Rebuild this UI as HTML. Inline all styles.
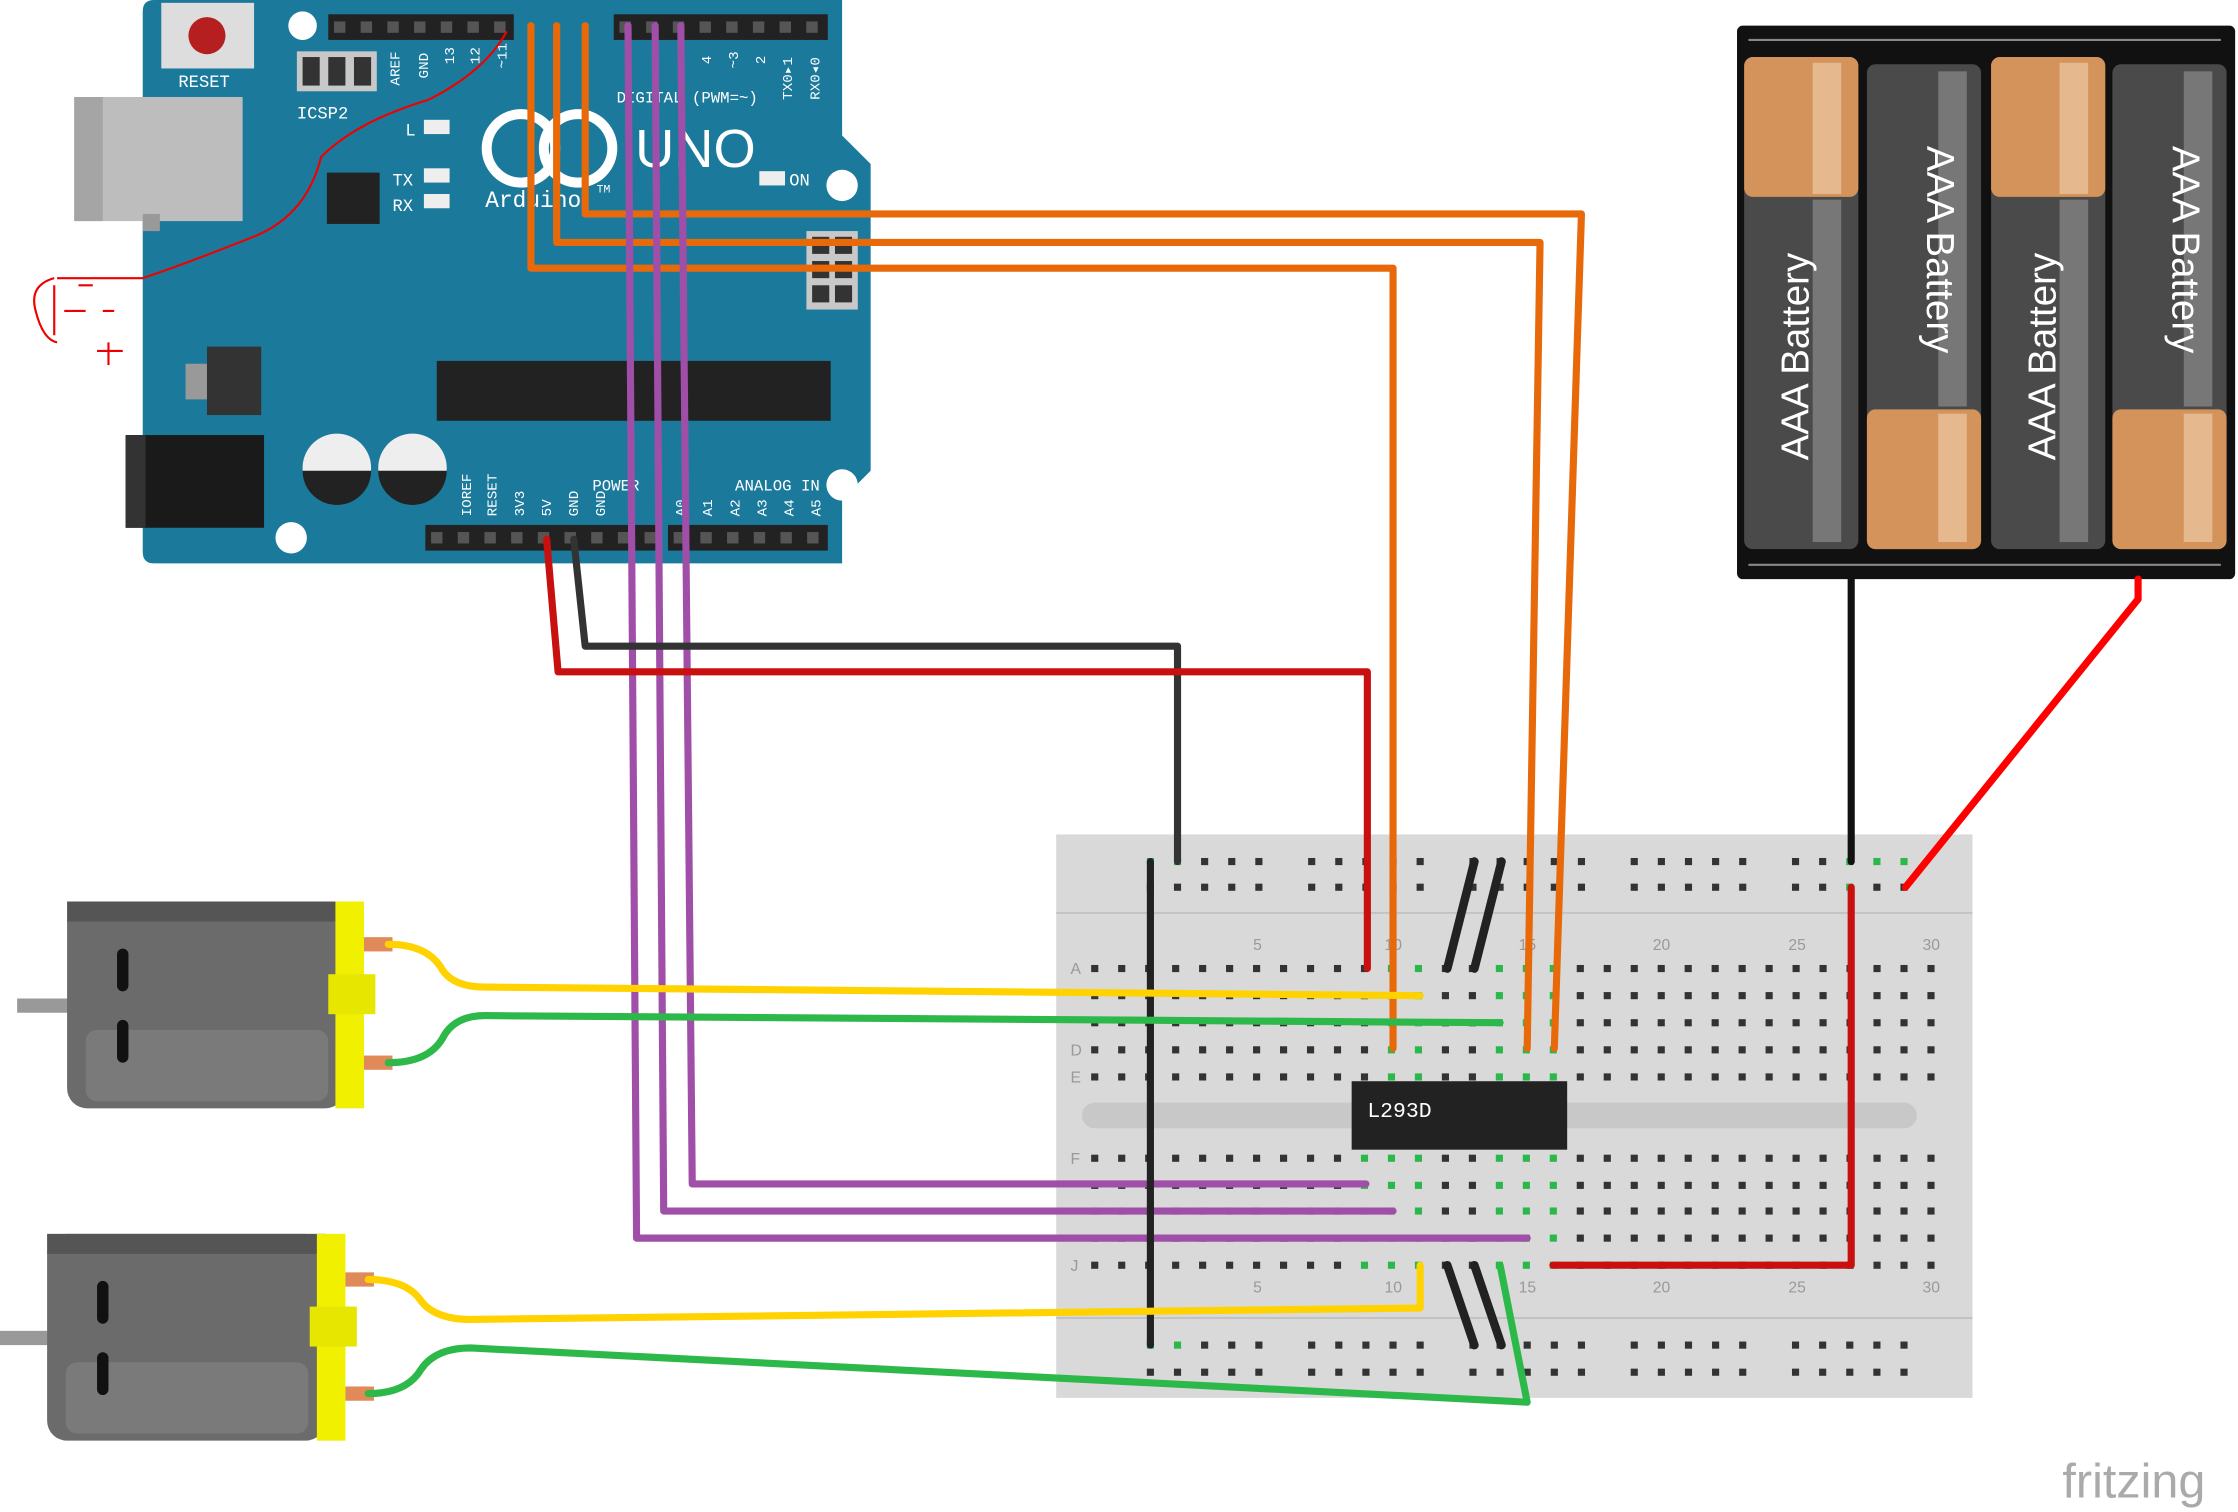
<!DOCTYPE html>
<html><head><meta charset="utf-8"><style>
html,body{margin:0;padding:0;background:#fff;}
svg{display:block;}
.m{font-family:"Liberation Mono",monospace;}
.s{font-family:"Liberation Sans",sans-serif;}
</style></head><body>
<svg width="2238" height="1512" viewBox="0 0 1568 1060" preserveAspectRatio="none" xmlns="http://www.w3.org/2000/svg">
<rect width="1568" height="1060" fill="#fff"/>
<!-- Arduino -->
<path d="M108 0 H590 V95 L610 115 V330 L590 350 V395 H108 Q100 395 100 387 V8 Q100 0 108 0Z" fill="#1b7a9c"/>
<rect x="52" y="68" width="118" height="87" fill="#bdbdbd"/>
<rect x="52" y="68" width="20" height="87" fill="#a5a5a5"/>
<rect x="100" y="150" width="12" height="12" fill="#999"/>
<rect x="88" y="305" width="97" height="65" fill="#1a1a1a"/>
<rect x="88" y="305" width="14" height="65" fill="#333"/>
<rect x="113" y="2" width="65" height="46" fill="#ddd"/>
<circle cx="145" cy="25" r="13" fill="#b51f1f"/>
<text class="m" x="125" y="61" font-size="12" fill="#fff">RESET</text>
<circle cx="212" cy="18" r="10" fill="#fff"/>
<circle cx="590" cy="130" r="11" fill="#fff"/>
<circle cx="590" cy="340" r="11" fill="#fff"/>
<circle cx="204" cy="377" r="11" fill="#fff"/>
<rect x="208" y="36" width="56" height="28" fill="#c8c8c8"/>
<rect x="212" y="40" width="12" height="20" fill="#333"/><rect x="230" y="40" width="12" height="20" fill="#333"/><rect x="248" y="40" width="12" height="20" fill="#333"/>
<text class="m" x="208" y="83" font-size="12" fill="#fff">ICSP2</text>
<g id="hdr"></g>
<rect x="306" y="253" width="276" height="42" fill="#222"/>
<rect x="229" y="121" width="37" height="36" fill="#222"/>
<rect x="145" y="243" width="38" height="48" fill="#333"/>
<rect x="130" y="255" width="15" height="25" fill="#999"/>
<rect x="565" y="162" width="36" height="55" fill="#c8c8c8"/>
<rect x="569" y="166" width="12" height="12" fill="#333"/><rect x="585" y="166" width="12" height="12" fill="#333"/>
<rect x="569" y="183" width="12" height="12" fill="#333"/><rect x="585" y="183" width="12" height="12" fill="#333"/>
<rect x="569" y="200" width="12" height="12" fill="#333"/><rect x="585" y="200" width="12" height="12" fill="#333"/>
<circle cx="236" cy="328" r="24" fill="#eee"/><path d="M212 330 A24 24 0 0 0 260 330Z" fill="#222"/>
<circle cx="289" cy="328" r="24" fill="#eee"/><path d="M265 330 A24 24 0 0 0 313 330Z" fill="#222"/>
<rect x="297" y="84" width="18" height="10" fill="#eee"/>
<rect x="297" y="118" width="18" height="10" fill="#eee"/>
<rect x="297" y="136" width="18" height="10" fill="#eee"/>
<rect x="532" y="120" width="18" height="10" fill="#eee"/>
<g class="m" font-size="12" fill="#fff">
<text x="284" y="95">L</text>
<text x="275" y="130">TX</text>
<text x="275" y="148">RX</text>
<text x="553" y="130">ON</text>
<text x="432" y="72" font-size="11">DIGITAL (PWM=~)</text>
<text x="415" y="344" font-size="11">POWER</text>
<text x="515" y="344" font-size="11">ANALOG IN</text>
<text x="340" y="145" font-size="16">Arduino</text>
<text x="418" y="135" font-size="8">TM</text>
<g font-size="10">
<text transform="translate(280,60) rotate(-90)">AREF</text>
<text transform="translate(300,55) rotate(-90)">GND</text>
<text transform="translate(318,45) rotate(-90)">13</text>
<text transform="translate(336,45) rotate(-90)">12</text>
<text transform="translate(355,48) rotate(-90)">~11</text>
<text transform="translate(330,362) rotate(-90)">IOREF</text>
<text transform="translate(348,362) rotate(-90)">RESET</text>
<text transform="translate(367,362) rotate(-90)">3V3</text>
<text transform="translate(386,362) rotate(-90)">5V</text>
<text transform="translate(405,362) rotate(-90)">GND</text>
<text transform="translate(424,362) rotate(-90)">GND</text>
<text transform="translate(480,362) rotate(-90)">A0</text>
<text transform="translate(499,362) rotate(-90)">A1</text>
<text transform="translate(518,362) rotate(-90)">A2</text>
<text transform="translate(537,362) rotate(-90)">A3</text>
<text transform="translate(556,362) rotate(-90)">A4</text>
<text transform="translate(575,362) rotate(-90)">A5</text>
<text transform="translate(498,45) rotate(-90)">4</text>
<text transform="translate(517,48) rotate(-90)">~3</text>
<text transform="translate(536,45) rotate(-90)">2</text>
<text transform="translate(555,70) rotate(-90)">TX0▸1</text>
<text transform="translate(574,70) rotate(-90)">RX0◂0</text>
</g>
</g>
<text class="s" x="445" y="117" font-size="38" fill="#fff">UNO</text>
<circle cx="365" cy="104" r="24" fill="none" stroke="#fff" stroke-width="7"/>
<circle cx="405" cy="104" r="24" fill="none" stroke="#fff" stroke-width="7"/>
<!-- red hand drawing -->
<path d="M355 22 Q340 50 300 70 Q250 85 225 110 Q215 150 180 165 Q130 185 100 195 L40 195" fill="none" stroke="#e00" stroke-width="1.5"/>
<path d="M38 195 Q20 200 25 218 Q30 238 40 240 M38 200 V235 M45 218 H60 M55 200 H65 M72 218 H80 M76 240 V256 M68 246 H86" fill="none" stroke="#e00" stroke-width="1.5"/>
<!-- Battery -->
<rect x="1217" y="18" width="349" height="388" rx="4" fill="#111"/>
<path d="M1225 28 H1556 M1225 396 H1556" stroke="#888" stroke-width="1.5"/>
<g class="s" font-size="27" fill="#fff">
<rect x="1222" y="40" width="80" height="345" rx="6" fill="#4a4a4a"/><rect x="1222" y="40" width="80" height="98" rx="6" fill="#d4935a"/><rect x="1270" y="44" width="20" height="92" fill="#e6b88e"/><rect x="1270" y="140" width="20" height="240" fill="#777"/>
<text transform="translate(1267,250) rotate(-90)" text-anchor="middle">AAA Battery</text>
<rect x="1308" y="45" width="80" height="340" rx="6" fill="#4a4a4a"/><rect x="1308" y="287" width="80" height="98" rx="6" fill="#d4935a"/><rect x="1358" y="290" width="20" height="90" fill="#e6b88e"/><rect x="1358" y="50" width="20" height="235" fill="#777"/>
<text transform="translate(1350,175) rotate(90)" text-anchor="middle">AAA Battery</text>
<rect x="1395" y="40" width="80" height="345" rx="6" fill="#4a4a4a"/><rect x="1395" y="40" width="80" height="98" rx="6" fill="#d4935a"/><rect x="1443" y="44" width="20" height="92" fill="#e6b88e"/><rect x="1443" y="140" width="20" height="240" fill="#777"/>
<text transform="translate(1440,250) rotate(-90)" text-anchor="middle">AAA Battery</text>
<rect x="1480" y="45" width="80" height="340" rx="6" fill="#4a4a4a"/><rect x="1480" y="287" width="80" height="98" rx="6" fill="#d4935a"/><rect x="1530" y="290" width="20" height="90" fill="#e6b88e"/><rect x="1530" y="50" width="20" height="235" fill="#777"/>
<text transform="translate(1522,175) rotate(90)" text-anchor="middle">AAA Battery</text>
</g>
<!-- Breadboard -->
<rect x="740" y="585" width="642" height="395" fill="#d9d9d9"/>
<rect x="758" y="773" width="585" height="18" rx="9" fill="#c8c8c8"/>
<line x1="740" y1="640" x2="1382" y2="640" stroke="#bbb"/>
<line x1="740" y1="924" x2="1382" y2="924" stroke="#bbb"/>
<g id="holes"></g>
<g class="s" font-size="11" fill="#999">
<text x="878" y="666">5</text><text x="970" y="666">10</text><text x="1064" y="666">15</text><text x="1158" y="666">20</text><text x="1253" y="666">25</text><text x="1347" y="666">30</text>
<text x="878" y="906">5</text><text x="970" y="906">10</text><text x="1064" y="906">15</text><text x="1158" y="906">20</text><text x="1253" y="906">25</text><text x="1347" y="906">30</text>
<text x="750" y="683">A</text><text x="750" y="740">D</text><text x="750" y="759">E</text><text x="750" y="816">F</text><text x="750" y="891">J</text>
</g>
<rect x="947" y="758" width="151" height="48" fill="#222"/>
<text class="m" x="958" y="783" font-size="15" fill="#fff">L293D</text>
<!-- Motors -->
<g>
<rect x="12" y="700" width="38" height="10" fill="#999"/>
<rect x="47" y="632" width="195" height="145" rx="14" fill="#6b6b6b"/>
<rect x="47" y="632" width="195" height="14" fill="#555"/>
<rect x="60" y="722" width="170" height="50" rx="8" fill="#7a7a7a"/>
<rect x="82" y="665" width="8" height="30" rx="4" fill="#111"/><rect x="82" y="715" width="8" height="30" rx="4" fill="#111"/>
<rect x="235" y="632" width="20" height="145" fill="#f0f000"/>
<rect x="230" y="683" width="33" height="28" fill="#e6e600"/>
<rect x="255" y="657" width="20" height="10" fill="#e08a5a"/><rect x="255" y="740" width="20" height="10" fill="#e08a5a"/>
</g>
<g>
<rect x="0" y="933" width="38" height="10" fill="#999"/>
<rect x="33" y="865" width="195" height="145" rx="14" fill="#6b6b6b"/>
<rect x="33" y="865" width="195" height="14" fill="#555"/>
<rect x="46" y="955" width="170" height="50" rx="8" fill="#7a7a7a"/>
<rect x="68" y="898" width="8" height="30" rx="4" fill="#111"/><rect x="68" y="948" width="8" height="30" rx="4" fill="#111"/>
<rect x="222" y="865" width="20" height="145" fill="#f0f000"/>
<rect x="217" y="916" width="33" height="28" fill="#e6e600"/>
<rect x="242" y="892" width="20" height="10" fill="#e08a5a"/><rect x="242" y="972" width="20" height="10" fill="#e08a5a"/>
</g>
<!-- Wires -->
<g fill="none" stroke-width="5" stroke-linejoin="round" stroke-linecap="round">
<path d="M410 18 V150 H1108 L1089 735" stroke="#e8690a"/>
<path d="M390 18 V170 H1079 L1070 735" stroke="#e8690a"/>
<path d="M372 18 V188 H976 V735" stroke="#e8690a"/>
<path d="M440 18 L446 868 H1070" stroke="#a04fa8"/>
<path d="M459 18 L465 849 H976" stroke="#a04fa8"/>
<path d="M477 18 L485 830 H957" stroke="#a04fa8"/>
<path d="M402 378 L410 453 H825 V604" stroke="#333"/>
<path d="M383 378 L391 471 H958 V679" stroke="#c81010"/>
<path d="M806 604 V943" stroke="#222"/>
<path d="M1088 887 H1297 V622" stroke="#c81010"/>
<path d="M1297 406 V604" stroke="#111"/>
<path d="M1498 406 V420 L1335 622" stroke="#f00"/>
<path d="M272 662 Q300 662 310 680 Q318 692 340 692 L995 698" stroke="#ffd200"/>
<path d="M272 745 Q300 745 310 728 Q318 712 340 712 L1051 717" stroke="#2db84a"/>
<path d="M258 897 Q285 897 295 912 Q305 925 330 925 L995 917 V887" stroke="#ffd200"/>
<path d="M258 977 Q285 977 295 960 Q305 945 330 945 L1070 983 L1051 887" stroke="#2db84a"/>
<path d="M1014 679 L1033 604 M1033 679 L1052 604 M1014 887 L1033 943 M1033 887 L1052 943" stroke="#222" stroke-width="6"/>
</g>
<text class="s" x="1445" y="1050" font-size="34" fill="#aaa">fritzing</text>
</svg>
<script>
(function(){
var ns="http://www.w3.org/2000/svg",g=document.getElementById("holes"),hd=document.getElementById("hdr");
function R(p,x,y,w,h,f){var r=document.createElementNS(ns,"rect");r.setAttribute("x",x);r.setAttribute("y",y);r.setAttribute("width",w);r.setAttribute("height",h);r.setAttribute("fill",f);p.appendChild(r);}
function h(x,y,gr){R(g,x-2.5,y-2.5,5,5,gr?"#2bb84a":"#333");}
// headers
[[230,360],[430,580],[298,460],[468,580]].forEach(function(a,i){var y=i<2?10:368;R(hd,a[0],y,a[1]-a[0],18,"#222");for(var x=a[0]+4;x<a[1]-6;x+=18.7)R(hd,x,y+5,8,8,"#555");});
var rows=[679,698,717,736,755,812,831,849,868,887];
var green={};
// connection columns highlight
[[976,0],[1070,0],[1089,0],[995,0],[1051,0],[957,1],[976,1],[1070,1],[995,1],[1051,1],[1089,1]].forEach(function(a){green[Math.round((a[0]-767)/18.9)+"_"+a[1]]=1;});
for(var c=0;c<32;c++){var x=767+c*18.9;rows.forEach(function(y,ri){var half=ri<5?0:1;var gr=green[c+"_"+half]&&x>945&&x<1100;h(x,y,gr);});}
var groups=[806,919,1032,1145,1258];
groups.forEach(function(gx){for(var i=0;i<5;i++){[604,622,943,962].forEach(function(y){var X=gx+i*19;var gr=(y==604||y==943)&&(X==806||X==825)||(y==604&&(X==1296||X==1315||X==1334))||(y==622&&X==1296);h(X,y,gr);});}});
})();
</script>
</body></html>
